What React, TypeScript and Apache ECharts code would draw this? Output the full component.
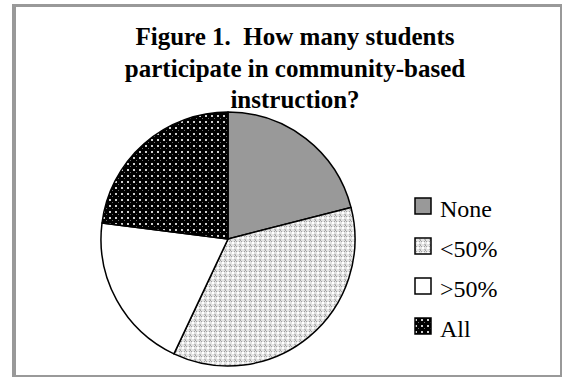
import React, { useEffect, useRef } from "react";
import * as echarts from "echarts";

const categories = ["None", "<50%", ">50%", "All"];
const values = [21, 36, 20, 23];
const titleLines = [
  "Figure 1.  How many students",
  "participate in community-based",
  "instruction?",
];

const FONT = "Liberation Serif";

// Small repeating tiles used as slice fills
function makeCheckTile(): HTMLCanvasElement {
  const c = document.createElement("canvas");
  c.width = 5;
  c.height = 5;
  const g = c.getContext("2d")!;
  g.fillStyle = "#e4e4e4";
  g.fillRect(0, 0, 5, 5);
  g.fillStyle = "#ffffff";
  g.fillRect(2, 2, 2, 2);
  g.fillStyle = "#a0a0a0";
  g.fillRect(0, 0, 1, 1);
  g.fillRect(1, 1, 1, 1);
  g.fillRect(4, 1, 1, 1);
  g.fillStyle = "#b8b8b8";
  g.fillRect(0, 4, 1, 1);
  g.fillRect(4, 4, 1, 1);
  return c;
}

function makeDotTile(): HTMLCanvasElement {
  const c = document.createElement("canvas");
  c.width = 6;
  c.height = 6;
  const g = c.getContext("2d")!;
  g.fillStyle = "#000000";
  g.fillRect(0, 0, 6, 6);
  g.fillStyle = "#d0d0d0";
  g.fillRect(1, 1, 2, 2);
  g.fillStyle = "#707070";
  g.fillRect(4, 4, 1, 1);
  return c;
}

export default function App() {
  const ref = useRef<HTMLDivElement>(null);

  useEffect(() => {
    if (!ref.current) return;
    const chart = echarts.init(ref.current, null, { renderer: "svg" });

    const fills: any[] = [
      "#999999",
      { image: makeCheckTile(), repeat: "repeat" },
      "#ffffff",
      { image: makeDotTile(), repeat: "repeat" },
    ];

    // Vertical key on the right, one swatch + label per category
    const legendItems: any[] = [];
    categories.forEach((name, i) => {
      const cy = 206 + i * 40;
      legendItems.push({
        type: "rect",
        shape: { x: 415, y: cy - 8, width: 16, height: 16 },
        style: { fill: fills[i], stroke: "#000000", lineWidth: 1.5 },
      });
      legendItems.push({
        type: "text",
        x: 440,
        y: cy + 3,
        style: {
          text: name,
          fill: "#000000",
          font: `24px ${FONT}`,
          textVerticalAlign: "middle",
          verticalAlign: "middle",
        },
      });
    });

    chart.setOption({
      animation: false,
      backgroundColor: "#ffffff",
      textStyle: { fontFamily: FONT },
      title: {
        text: titleLines.join("\n"),
        left: 290,
        top: 16,
        textAlign: "center",
        textStyle: {
          fontFamily: FONT,
          fontWeight: "bold",
          fontSize: 25,
          lineHeight: 31.5,
          color: "#000000",
        },
      },
      graphic: [
        { type: "rect", shape: { x: 12, y: 4, width: 4, height: 373 }, style: { fill: "#999999" } },
        { type: "rect", shape: { x: 12, y: 4, width: 550, height: 3 }, style: { fill: "#999999" } },
        { type: "rect", shape: { x: 560, y: 4, width: 2, height: 373 }, style: { fill: "#999999" } },
        { type: "rect", shape: { x: 12, y: 375, width: 550, height: 2 }, style: { fill: "#999999" } },
        ...legendItems,
      ],
      series: [
        {
          type: "pie",
          center: [228, 239],
          radius: 127,
          startAngle: 90,
          clockwise: true,
          label: { show: false },
          labelLine: { show: false },
          emphasis: { disabled: true },
          itemStyle: { borderColor: "#000000", borderWidth: 1.5 },
          data: categories.map((name, i) => ({
            name,
            value: values[i],
            itemStyle: { color: fills[i] },
          })),
        },
      ],
    });

    return () => chart.dispose();
  }, []);

  return (
    <div
      ref={ref}
      style={{ position: "fixed", left: 0, top: 0, width: 562, height: 377 }}
    />
  );
}
